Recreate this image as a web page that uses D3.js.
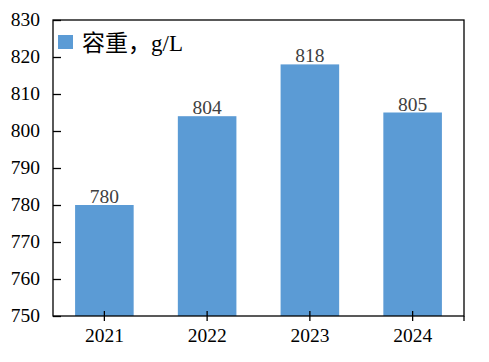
<!DOCTYPE html>
<html>
<head>
<meta charset="utf-8">
<script src="https://cdn.jsdelivr.net/npm/d3@7"></script>
<style>
  body { margin: 0; background: #fff; }
  text { font-family: "Liberation Serif", "Noto Sans CJK SC", serif; }
</style>
</head>
<body>
<div id="container"></div>
<script>
// data
const years = ["2021", "2022", "2023", "2024"];
const values = [780, 804, 818, 805];
const yTicks = [750, 760, 770, 780, 790, 800, 810, 820, 830];
const legendLabel = "容重，g/L";

const width = 489, height = 362;
const margin = {top: 20, right: 25, bottom: 46, left: 53};

const svg = d3.select("#container")
  .append("svg")
  .attr("width", width)
  .attr("height", height);

const x = d3.scaleBand()
  .domain(years)
  .range([margin.left, width - margin.right])
  .paddingInner(0.43)
  .paddingOuter(0.215);

const y = d3.scaleLinear()
  .domain([750, 830])
  .range([height - margin.bottom, margin.top]);

// bars
svg.append("g")
  .selectAll("rect")
  .data(values)
  .enter().append("rect")
    .attr("x", (d, i) => x(years[i]))
    .attr("y", d => y(d))
    .attr("width", x.bandwidth())
    .attr("height", d => y(750) - y(d))
    .attr("fill", "#5B9BD5");

// value labels
svg.append("g")
  .selectAll("text")
  .data(values)
  .enter().append("text")
    .attr("x", (d, i) => x(years[i]) + x.bandwidth() / 2)
    .attr("y", d => y(d) - 2)
    .attr("text-anchor", "middle")
    .attr("font-size", "19.5px")
    .attr("fill", "#404040")
    .text(d => d);

// plot frame
svg.append("rect")
  .attr("x", margin.left)
  .attr("y", margin.top)
  .attr("width", width - margin.left - margin.right)
  .attr("height", height - margin.top - margin.bottom)
  .attr("fill", "none")
  .attr("stroke", "#000")
  .attr("stroke-width", 1.3);

// y axis, ticks pointing inward
const yAxis = svg.append("g")
  .attr("transform", "translate(" + margin.left + ",0)")
  .call(d3.axisRight(y).tickValues(yTicks).tickSize(8).tickFormat(""));
yAxis.select(".domain").remove();
yAxis.selectAll("line").attr("stroke", "#000").attr("stroke-width", 1.3);

svg.append("g")
  .selectAll("text")
  .data(yTicks)
  .enter().append("text")
    .attr("x", 40)
    .attr("y", d => y(d))
    .attr("dy", "0.33em")
    .attr("text-anchor", "end")
    .attr("font-size", "19.5px")
    .attr("fill", "#000")
    .text(d => d);

// x axis, ticks crossing the axis line
const xAxis = svg.append("g")
  .attr("transform", "translate(0," + y(750) + ")")
  .call(d3.axisBottom(x).tickSize(5).tickPadding(7));
xAxis.select(".domain").remove();
xAxis.selectAll("line")
  .attr("y1", -5)
  .attr("stroke", "#000")
  .attr("stroke-width", 1.3);
xAxis.selectAll("text")
  .attr("font-size", "19.5px")
  .attr("fill", "#000")
  .attr("font-family", "Liberation Serif, serif");
xAxis.append("line")
  .attr("x1", width - margin.right).attr("x2", width - margin.right)
  .attr("y1", 0).attr("y2", 5)
  .attr("stroke", "#000")
  .attr("stroke-width", 1.3);

// legend
const legend = svg.append("g").attr("transform", "translate(58,35)");
legend.append("rect")
  .attr("width", 15)
  .attr("height", 14)
  .attr("fill", "#5B9BD5");
legend.append("text")
  .attr("x", 24)
  .attr("y", 16)
  .attr("font-size", "23px")
  .attr("fill", "#000")
  .text(legendLabel);
</script>
</body>
</html>
